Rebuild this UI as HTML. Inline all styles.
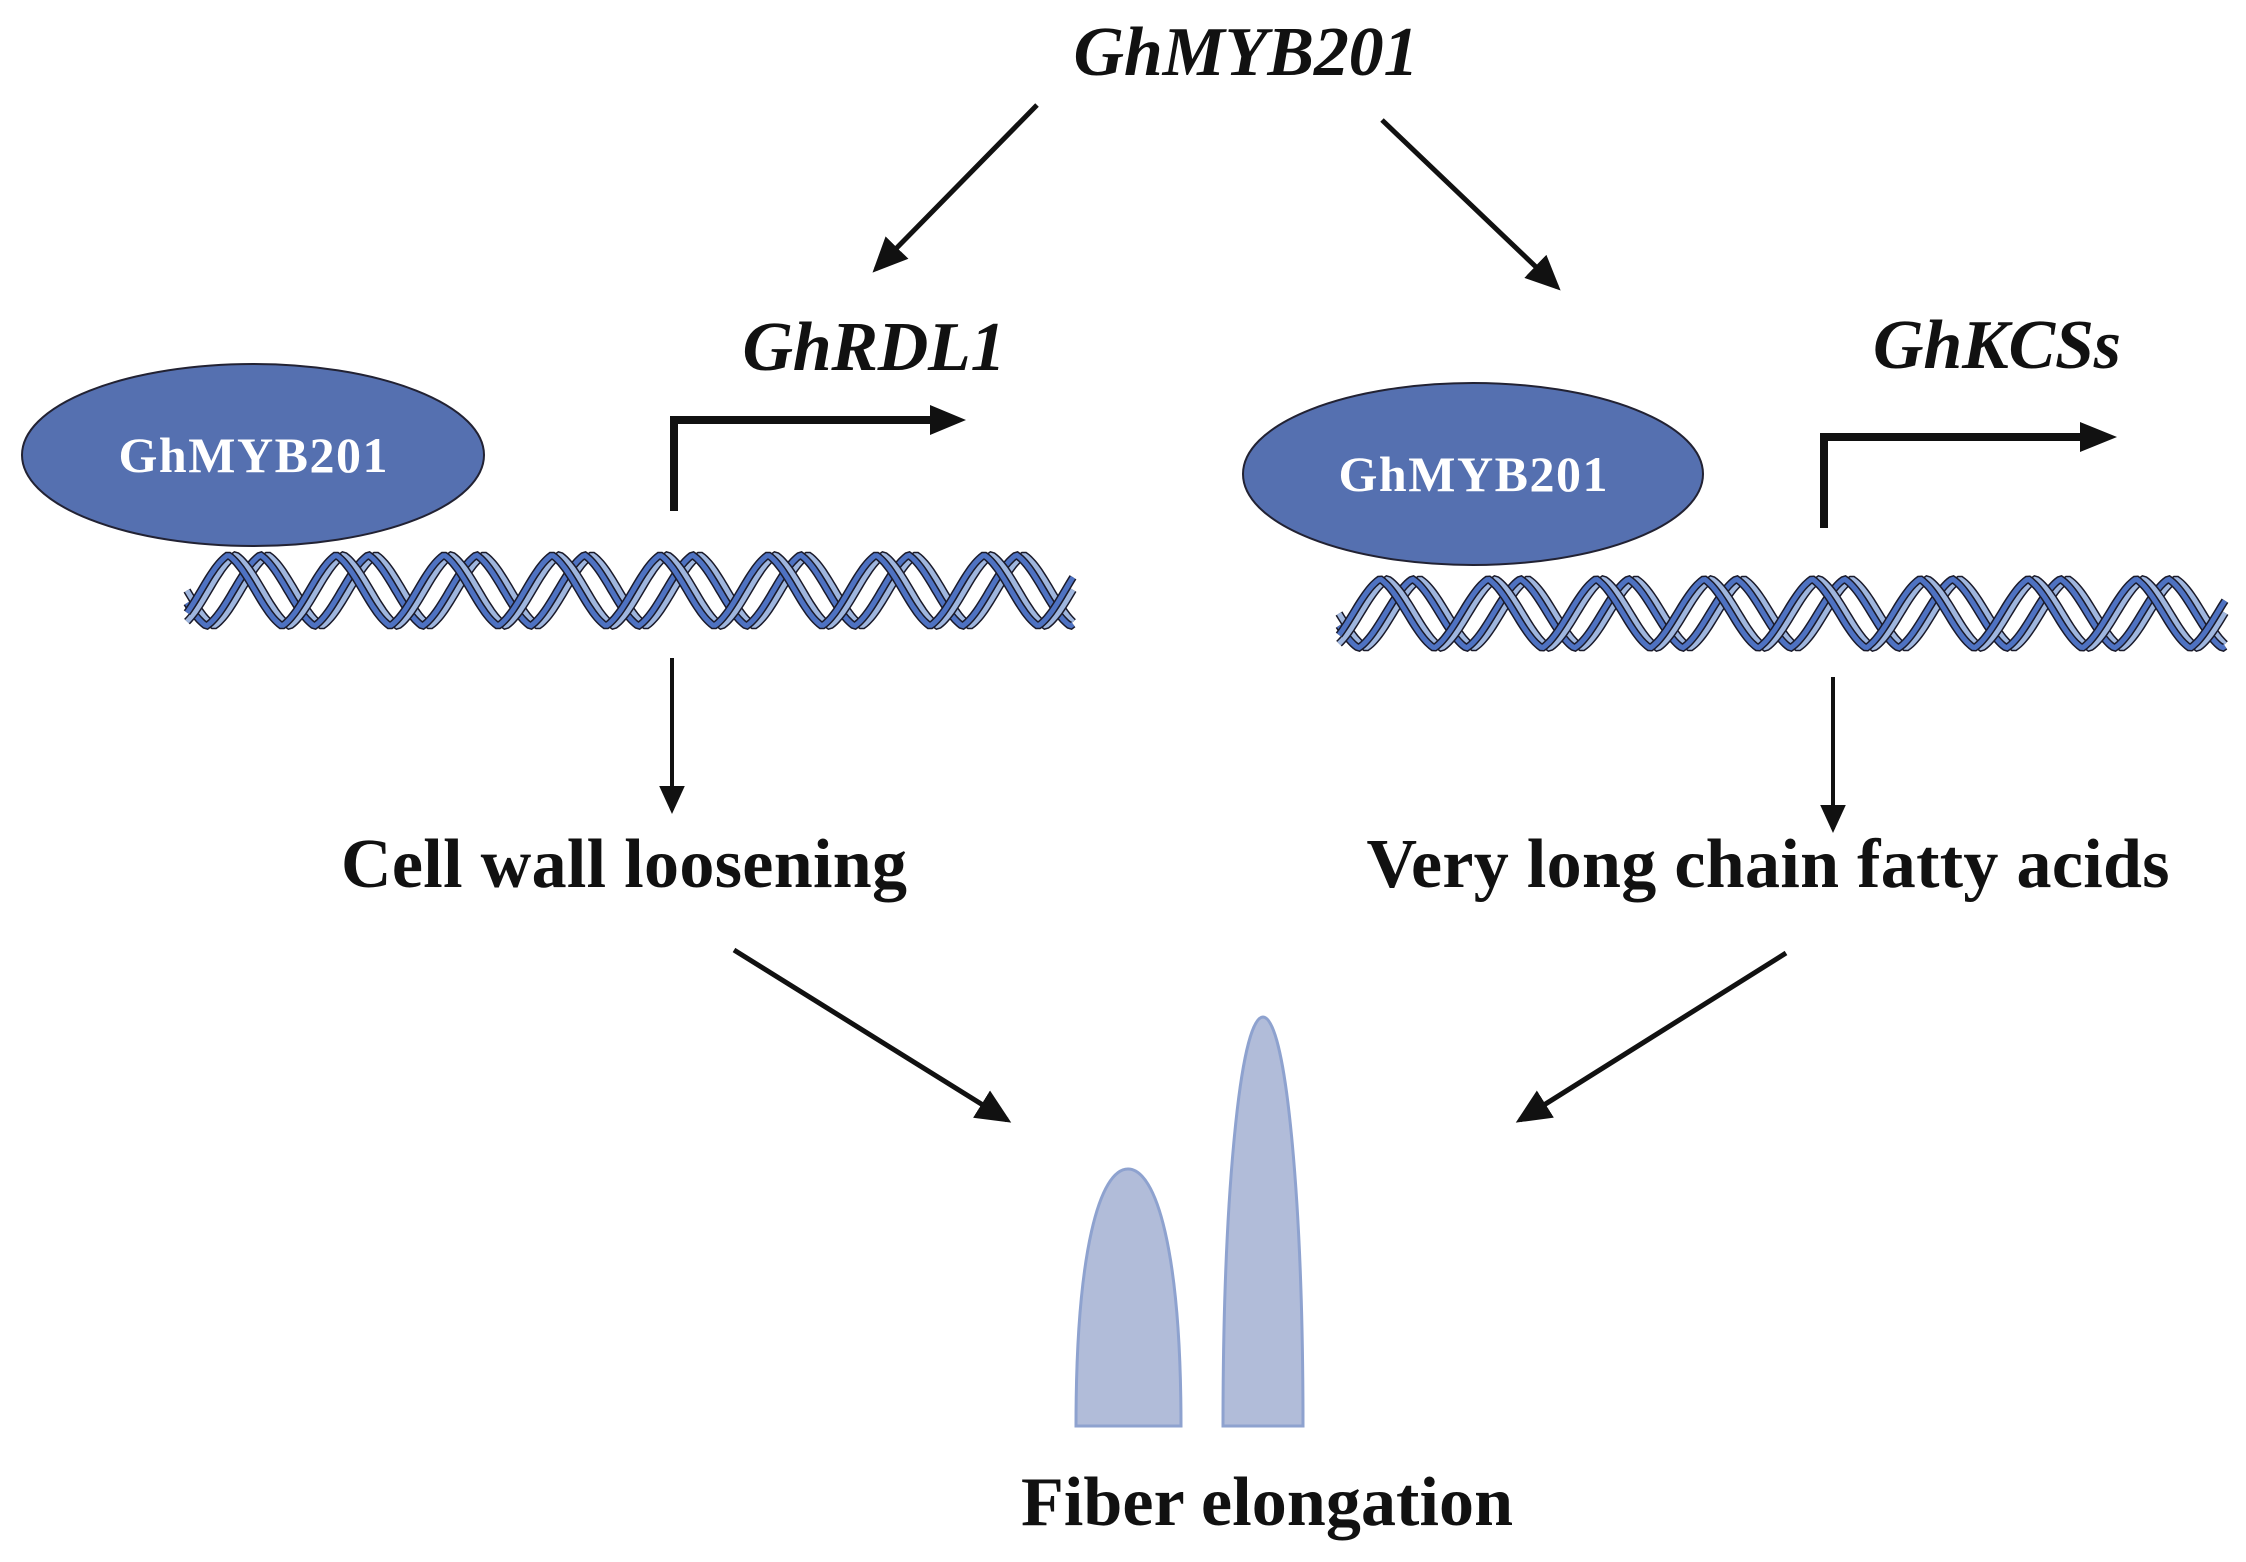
<!DOCTYPE html>
<html><head><meta charset="utf-8"><style>
html,body{margin:0;padding:0;background:#fff;}
svg{display:block;}
text{font-family:"Liberation Serif",serif;font-weight:bold;}
</style></head><body>
<svg id="s" width="2246" height="1562" viewBox="0 0 2246 1562" xmlns="http://www.w3.org/2000/svg">
<defs>
<marker id="ah" markerWidth="8" markerHeight="8" refX="6" refY="4" orient="auto" markerUnits="strokeWidth">
<path d="M0,0.8 L7,4 L0,7.2 Z" fill="#111"/></marker>
</defs>
<text x="1246" y="75" font-size="70" font-style="italic" text-anchor="middle" fill="#111" textLength="345">GhMYB201</text>
<line x1="1037" y1="105" x2="876" y2="269" stroke="#111" stroke-width="5" marker-end="url(#ah)"/>
<line x1="1382" y1="120" x2="1557" y2="287" stroke="#111" stroke-width="5" marker-end="url(#ah)"/>
<text x="874" y="370" font-size="70" font-style="italic" text-anchor="middle" fill="#111" textLength="263">GhRDL1</text>
<text x="1997" y="368" font-size="70" font-style="italic" text-anchor="middle" fill="#111" textLength="248">GhKCSs</text>

<ellipse cx="253" cy="455" rx="231" ry="91" fill="#5570b0" stroke="#223" stroke-width="2"/>
<text x="253" y="472" font-size="50" text-anchor="middle" fill="#fff" textLength="269">GhMYB201</text>
<ellipse cx="1473" cy="474" rx="230" ry="91" fill="#5570b0" stroke="#223" stroke-width="2"/>
<text x="1473" y="491" font-size="50" text-anchor="middle" fill="#fff" textLength="269">GhMYB201</text>

<polyline points="674,511 674,420 935,420" fill="none" stroke="#111" stroke-width="8"/>
<path d="M930,405 L966,420 L930,435 Z" fill="#111"/>
<polyline points="1824,528 1824,437 2085,437" fill="none" stroke="#111" stroke-width="8"/>
<path d="M2080,422 L2117,437 L2080,452 Z" fill="#111"/>

<g id="dna"></g>

<line x1="672" y1="658" x2="672" y2="810" stroke="#111" stroke-width="4" marker-end="url(#ah)"/>
<line x1="1833" y1="677" x2="1833" y2="829" stroke="#111" stroke-width="4" marker-end="url(#ah)"/>
<text x="624" y="887" font-size="70" text-anchor="middle" fill="#111" textLength="566">Cell wall loosening</text>
<text x="1768" y="887" font-size="70" text-anchor="middle" fill="#111" textLength="803">Very long chain fatty acids</text>
<line x1="734" y1="950" x2="1007" y2="1120" stroke="#111" stroke-width="5" marker-end="url(#ah)"/>
<line x1="1786" y1="953" x2="1520" y2="1120" stroke="#111" stroke-width="5" marker-end="url(#ah)"/>

<path d="M1076,1426 C1076,1250 1100,1169 1128,1169 C1156,1169 1181,1250 1181,1426 Z" fill="#b1bcd9" stroke="#8ea2cf" stroke-width="3"/>
<path d="M1223,1426 C1223,1200 1240,1017 1263,1017 C1286,1017 1303,1200 1303,1426 Z" fill="#b1bcd9" stroke="#8ea2cf" stroke-width="3"/>
<text x="1267" y="1525" font-size="70" text-anchor="middle" fill="#111" textLength="492">Fiber elongation</text>
</svg>
<script>
(function(){
var g=document.getElementById('dna');
function wave(t){ // blend of sine and triangle
  var s=Math.sin(2*Math.PI*t);
  var f=t-Math.floor(t);
  var tri=f<0.25?4*f:(f<0.75?2-4*f:4*f-4);
  return 0.5*s+0.5*tri;
}
function helix(x0,x1,y0,y1){
  var per=108, mid=(y0+y1)/2, amp=(y1-y0)/2-3;
  var out='';
  var strands=[[0,'#9fb6de'],[0.07,'#4e72c2'],[0.3,'#9fb6de'],[0.37,'#4e72c2']];
  strands.forEach(function(s){
    var d='';
    for(var x=x0;x<=x1;x+=2){
      var y=mid+amp*wave((x-x0)/per+s[0]);
      d+=(x==x0?'M':'L')+x.toFixed(1)+','+y.toFixed(1);
    }
    out+='<path d="'+d+'" fill="none" stroke="#1a1a2a" stroke-width="8"/>';
    out+='<path d="'+d+'" fill="none" stroke="'+s[1]+'" stroke-width="5"/>';
  });
  return out;
}
g.innerHTML=helix(187,1073,552,629)+helix(1339,2225,576,651);
})();
</script>
</body></html>
